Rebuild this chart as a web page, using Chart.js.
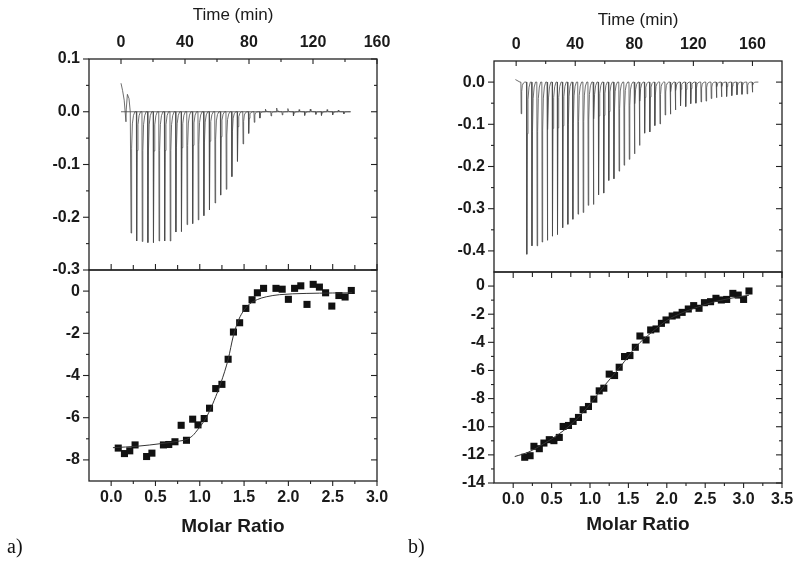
<!DOCTYPE html>
<html>
<head>
<meta charset="utf-8">
<script src="https://cdn.jsdelivr.net/npm/chart.js@4.4.0/dist/chart.umd.min.js"></script>
<style>
    html, body { margin: 0; padding: 0; background: #fff; }
    #wrap { position: relative; width: 800px; height: 572px; overflow: hidden; }
    canvas { position: absolute; }
    .tag { position: absolute; font: 20px "Liberation Serif", "Times New Roman", serif; color: #111; }
</style>
</head>
<body>
<div id="wrap">
    <canvas id="a1" width="400" height="280" style="left:0px;top:0px"></canvas>
    <canvas id="a2" width="400" height="310" style="left:0px;top:262px"></canvas>
    <canvas id="b1" width="400" height="282" style="left:400px;top:0px"></canvas>
    <canvas id="b2" width="400" height="310" style="left:400px;top:262px"></canvas>
    <div class="tag" style="left:7px;top:535px">a)</div>
    <div class="tag" style="left:408px;top:535px">b)</div>
</div>
<script>
// ---- tick labels ----
const timeTicks = [0, 40, 80, 120, 160];
const timeMinor = [20, 60, 100, 140];
const heatTicksA = [0.1, 0.0, -0.1, -0.2, -0.3];
const heatMinorA = [0.05, -0.05, -0.15, -0.25];
const heatTicksB = [0.0, -0.1, -0.2, -0.3, -0.4];
const heatMinorB = [-0.05, -0.15, -0.25, -0.35];
const molarTicksA = [0.0, 0.5, 1.0, 1.5, 2.0, 2.5, 3.0];
const molarMinorA = [0.25, 0.75, 1.25, 1.75, 2.25, 2.75];
const molarTicksB = [0.0, 0.5, 1.0, 1.5, 2.0, 2.5, 3.0, 3.5];
const molarMinorB = [0.25, 0.75, 1.25, 1.75, 2.25, 2.75, 3.25];
const enthalpyTicksA = [0, -2, -4, -6, -8];
const enthalpyMinorA = [-1, -3, -5, -7];
const enthalpyTicksB = [0, -2, -4, -6, -8, -10, -12, -14];
const enthalpyMinorB = [-1, -3, -5, -7, -9, -11, -13];

// ---- raw thermograms (injection time in min, peak depth in ucal/s) ----
const leadA = [[0, 0.054], [1, 0.04], [2, 0.022], [3.1, -0.019], [3.3, 0.005], [4, 0.033], [5, 0.025], [5.8, 0]];
const injTimesA = [6.1, 9.6, 13.1, 16.6, 20.1, 23.6, 27.1, 30.6, 34.1, 37.6, 41.1, 44.6, 48.1, 51.6, 55.1, 58.6,
    62.1, 65.6, 69.1, 72.6, 76.1, 79.6, 83.1, 86.6, 90.1, 93.6, 97.1, 100.6, 104.1, 107.6, 111.1, 114.6,
    118.1, 121.6, 125.1, 128.6, 132.1, 135.6, 139.1];
const heatA = [-0.230, -0.245, -0.246, -0.248, -0.248, -0.245, -0.245, -0.245, -0.228, -0.227,
    -0.214, -0.212, -0.205, -0.197, -0.186, -0.173, -0.158, -0.147, -0.123, -0.094,
    -0.061, -0.041, -0.020, -0.012, 0.005, -0.008, 0.007, -0.006, 0.006, -0.008,
    0.004, -0.007, 0.005, -0.005, -0.007, 0.004, -0.006, 0.003, -0.004];
const endA = 143.5;
const baselineA = [[0, 0], [143.5, 0]];

const leadB = [[-0.5, 0.006], [2.6, 0]];
const injTimesB = [3.2, 7.0, 10.5, 14.0, 17.4, 20.9, 24.4, 27.8, 31.3, 34.8, 38.2, 41.7, 45.2, 48.6, 52.1,
    55.6, 59.1, 62.5, 66.0, 69.5, 72.9, 76.4, 79.9, 83.3, 86.8, 90.3, 93.7, 97.2, 100.7, 104.2, 107.6,
    111.1, 114.6, 118.0, 121.5, 125.0, 128.4, 131.9, 135.4, 138.8, 142.3, 145.8, 149.3, 152.7, 156.2, 159.7];
const heatB = [-0.075, -0.408, -0.388, -0.388, -0.379, -0.375, -0.365, -0.361, -0.345, -0.337, -0.325,
    -0.313, -0.309, -0.292, -0.290, -0.267, -0.263, -0.233, -0.229, -0.211, -0.197,
    -0.183, -0.170, -0.150, -0.121, -0.118, -0.103, -0.099, -0.078, -0.076,
    -0.066, -0.056, -0.058, -0.051, -0.050, -0.047, -0.045, -0.039, -0.037, -0.035,
    -0.034, -0.032, -0.030, -0.029, -0.028, -0.024];
const endB = 164;

// shape of one injection peak: minutes after injection, fraction of depth
const peakOffsets = [0, 0.2, 0.55, 1.0, 1.7, 2.6];
const peakShape = [0, 1, 0.3, 0.1, 0.03, 0];

// ---- integrated heats (kcal/mol of injectant) ----
const molarA = [0.08, 0.15, 0.21, 0.27, 0.40, 0.46, 0.59, 0.65, 0.72, 0.79, 0.85, 0.92, 0.98, 1.05, 1.11, 1.18,
    1.25, 1.32, 1.38, 1.45, 1.52, 1.59, 1.65, 1.72, 1.86, 1.93, 2.00, 2.07, 2.14, 2.21, 2.28, 2.35,
    2.42, 2.49, 2.57, 2.64, 2.71];
const enthalpyA = [-7.44, -7.70, -7.57, -7.29, -7.84, -7.68, -7.29, -7.27, -7.14, -6.36, -7.07, -6.07, -6.34, -6.04,
    -5.55, -4.62, -4.42, -3.23, -1.94, -1.50, -0.82, -0.41, -0.08, 0.13, 0.13, 0.09, -0.39, 0.13,
    0.25, -0.63, 0.32, 0.19, -0.08, -0.71, -0.21, -0.28, 0.03];
const fitMolarA = [0.02, 0.3, 0.56, 0.75, 0.85, 0.92, 0.98, 1.05, 1.11, 1.18, 1.24, 1.32, 1.38, 1.44, 1.5,
    1.56, 1.65, 1.75, 1.9, 2.2, 2.5, 2.72];
const fitEnthalpyA = [-7.42, -7.35, -7.23, -7.12, -7.03, -6.85, -6.55, -6.15, -5.69, -5.0, -4.33, -3.24, -2.1,
    -1.35, -0.9, -0.62, -0.4, -0.27, -0.17, -0.11, -0.09, -0.08];

const molarB = [0.15, 0.22, 0.27, 0.34, 0.40, 0.47, 0.53, 0.60, 0.65, 0.72, 0.78, 0.85, 0.91, 0.98, 1.05, 1.12,
    1.18, 1.25, 1.32, 1.38, 1.45, 1.52, 1.59, 1.65, 1.73, 1.79, 1.86, 1.93, 1.99, 2.07, 2.13, 2.20,
    2.28, 2.35, 2.42, 2.49, 2.57, 2.64, 2.71, 2.78, 2.86, 2.93, 3.00, 3.07];
const enthalpyB = [-12.17, -12.06, -11.39, -11.56, -11.16, -10.92, -10.99, -10.76, -9.98, -9.91, -9.62, -9.34,
    -8.79, -8.56, -8.04, -7.45, -7.26, -6.26, -6.36, -5.77, -5.01, -4.94, -4.35, -3.55, -3.83, -3.12,
    -3.05, -2.65, -2.41, -2.13, -2.06, -1.87, -1.63, -1.39, -1.58, -1.18, -1.11, -0.87, -0.99, -0.95,
    -0.52, -0.64, -0.95, -0.35];
const fitMolarB = [0.02, 0.2, 0.4, 0.6, 0.8, 1.0, 1.2, 1.4, 1.6, 1.8, 2.0, 2.2, 2.4, 2.6, 2.8, 3.07];
const fitEnthalpyB = [-12.12, -11.8, -11.2, -10.5, -9.6, -8.4, -7.0, -5.7, -4.3, -3.3, -2.45, -1.9, -1.5, -1.15,
    -0.9, -0.65];

// ---- helpers ----
const tickFont = { family: '"Liberation Sans", Arial, sans-serif', weight: 'bold', size: 16 };
const ink = '#1a1a1a';

function buildTrace(lead, times, depths, end) {
    const pts = lead.map(p => ({ x: p[0], y: p[1] }));
    times.forEach((t, i) => {
        peakOffsets.forEach((dt, j) => pts.push({ x: t + dt, y: depths[i] * peakShape[j] }));
    });
    pts.push({ x: end, y: 0 });
    return pts;
}

function pairs(xs, ys) {
    return xs.map((x, i) => ({ x: x, y: ys[i] }));
}

// draws the closed frame and the tick marks with the chart's own scales
const frameTicks = {
    id: 'frameTicks',
    afterDatasetsDraw(chart, args, opts) {
        const { ctx, chartArea: a, scales } = chart;
        ctx.save();
        ctx.strokeStyle = '#222';
        ctx.lineWidth = 1.3;
        ctx.strokeRect(a.left, a.top, a.right - a.left, a.bottom - a.top);
        ctx.lineWidth = 1.1;
        for (const m of opts.marks) {
            const scale = scales[m.scale];
            for (const v of m.values) {
                const p = scale.getPixelForValue(v);
                ctx.beginPath();
                if (m.edge === 'top' || m.edge === 'bottom') {
                    const y0 = a[m.edge];
                    ctx.moveTo(p, y0);
                    ctx.lineTo(p, y0 + m.dir * m.len);
                } else {
                    const x0 = a[m.edge];
                    ctx.moveTo(x0, p);
                    ctx.lineTo(x0 + m.dir * m.len, p);
                }
                ctx.stroke();
            }
        }
        ctx.restore();
    }
};

function axis(opts) {
    const cfg = {
        type: 'linear',
        position: opts.position,
        min: opts.min,
        max: opts.max,
        grid: { display: false, drawTicks: false },
        border: { display: false },
        ticks: {
            autoSkip: false,
            maxRotation: 0,
            minRotation: 0,
            padding: opts.pad,
            color: ink,
            font: tickFont,
            callback: v => Number(v).toFixed(opts.digits)
        },
        afterBuildTicks: scale => { scale.ticks = opts.ticks.map(v => ({ value: v })); },
        afterFit: scale => {
            if (opts.position === 'left') scale.width = opts.size;
            else scale.height = opts.size;
            // keep the plot box where the layout padding puts it
            scale.paddingTop = 0;
            scale.paddingBottom = 0;
            scale.paddingLeft = 0;
            scale.paddingRight = 0;
        }
    };
    if (opts.title) cfg.title = opts.title;
    return cfg;
}

function edgeMarks(xKey, xMajor, xMinor, xEdge, xDir, yMajor, yMinor, extra) {
    const marks = [
        { scale: 'y', edge: 'left', values: yMajor, len: 6, dir: -1 },
        { scale: 'y', edge: 'left', values: yMinor, len: 3, dir: -1 },
        { scale: 'y', edge: 'right', values: yMajor, len: 6, dir: -1 },
        { scale: 'y', edge: 'right', values: yMinor, len: 3, dir: -1 },
        { scale: xKey, edge: xEdge, values: xMajor, len: 5, dir: xDir },
        { scale: xKey, edge: xEdge, values: xMinor, len: 3, dir: xDir }
    ];
    return marks.concat(extra || []);
}

function baseOptions(padding, marks, scales) {
    return {
        responsive: false,
        animation: false,
        events: [],
        layout: { padding: padding },
        plugins: {
            legend: { display: false },
            tooltip: { enabled: false },
            frameTicks: { marks: marks }
        },
        scales: scales
    };
}

const timeTitle = pad => ({
    display: true, text: 'Time (min)', color: ink,
    font: { family: '"Liberation Sans", Arial, sans-serif', size: 17 },
    padding: { top: pad, bottom: 0 }
});
const molarTitle = pad => ({
    display: true, text: 'Molar Ratio', color: ink,
    font: { family: '"Liberation Sans", Arial, sans-serif', size: 19, weight: 'bold' },
    padding: { top: 0, bottom: pad }
});

function traceChart(id, trace, extraSets, xr, yr, xSize, ySize, yTicks, yMinor, padding, titlePad) {
    const datasets = [{
        data: trace, borderColor: '#4a4a4a', borderWidth: 0.8, pointRadius: 0, tension: 0
    }].concat(extraSets);
    return new Chart(document.getElementById(id), {
        type: 'line',
        data: { datasets: datasets },
        options: baseOptions(padding,
            edgeMarks('x', timeTicks, timeMinor, 'top', 1, yTicks, yMinor),
            {
                x: axis({ position: 'top', min: xr[0], max: xr[1], ticks: timeTicks, digits: 0, pad: 7, size: xSize, title: timeTitle(titlePad) }),
                y: axis({ position: 'left', min: yr[0], max: yr[1], ticks: yTicks, digits: 1, pad: 9, size: ySize })
            }),
        plugins: [frameTicks]
    });
}

function heatChart(id, mx, ey, fx, fy, xr, yr, xTicks, xMinor, yTicks, yMinor, ySize, xSize, padding, topDir, titlePad) {
    return new Chart(document.getElementById(id), {
        type: 'line',
        data: {
            datasets: [
                { data: pairs(fx, fy), borderColor: '#333', borderWidth: 1, pointRadius: 0, cubicInterpolationMode: 'monotone' },
                { data: pairs(mx, ey), showLine: false, pointStyle: 'rect', pointRadius: 5, backgroundColor: '#111', borderWidth: 0 }
            ]
        },
        options: baseOptions(padding,
            edgeMarks('x', xTicks, xMinor, 'bottom', 1, yTicks, yMinor, [
                { scale: 'x', edge: 'top', values: xTicks, len: 6, dir: topDir },
                { scale: 'x', edge: 'top', values: xMinor, len: 5, dir: topDir }
            ]),
            {
                x: axis({ position: 'bottom', min: xr[0], max: xr[1], ticks: xTicks, digits: 1, pad: 7, size: xSize, title: molarTitle(titlePad) }),
                y: axis({ position: 'left', min: yr[0], max: yr[1], ticks: yTicks, digits: 0, pad: 9, size: ySize })
            }),
        plugins: [frameTicks]
    });
}

// ---- panel a ----
traceChart('a1', buildTrace(leadA, injTimesA, heatA, endA),
    [{ data: baselineA.map(p => ({ x: p[0], y: p[1] })), borderColor: '#444', borderWidth: 0.8, pointRadius: 0 }],
    [-20, 160], [-0.3, 0.1], 59, 89, heatTicksA, heatMinorA,
    { left: 0, right: 23, top: 0, bottom: 10 }, 5);

heatChart('a2', molarA, enthalpyA, fitMolarA, fitEnthalpyA,
    [-0.25, 3.0], [-9, 1], molarTicksA, molarMinorA, enthalpyTicksA, enthalpyMinorA,
    89, 91, { left: 0, right: 23, top: 8, bottom: 0 }, -1, 34);

// ---- panel b ----
traceChart('b1', buildTrace(leadB, injTimesB, heatB, endB), [],
    [-15, 180], [-0.45, 0.05], 61, 94, heatTicksB, heatMinorB,
    { left: 0, right: 18, top: 0, bottom: 10 }, 10);

heatChart('b2', molarB, enthalpyB, fitMolarB, fitEnthalpyB,
    [-0.25, 3.5], [-14, 1], molarTicksB, molarMinorB, enthalpyTicksB, enthalpyMinorB,
    94, 89, { left: 0, right: 18, top: 10, bottom: 0 }, 1, 36);
</script>
</body>
</html>
